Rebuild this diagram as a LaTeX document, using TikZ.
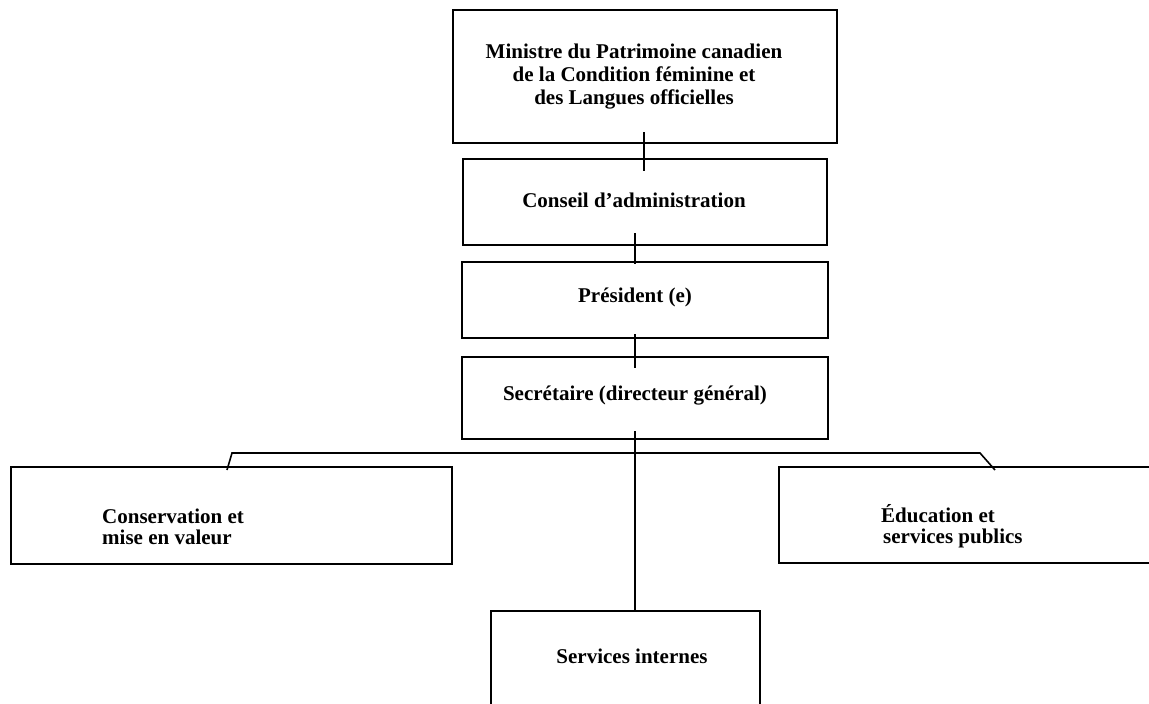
\documentclass[tikz,border=0pt]{standalone}
\usepackage{fontspec}
\setmainfont{Liberation Serif}
\begin{document}
\begin{tikzpicture}[x=1pt,y=-1pt,
  box/.style={draw, line width=2.8pt, rectangle, inner sep=0pt, outer sep=0pt},
  lbl/.style={font=\fontsize{21}{23}\selectfont\bfseries, inner sep=0pt, align=center},
  lbll/.style={font=\fontsize{21}{21}\selectfont\bfseries, inner sep=0pt, align=left, anchor=west},
  conn/.style={line width=2pt},
  branch/.style={line width=1.6pt, line join=miter}]
\useasboundingbox (0,0) rectangle (1149,704);
\clip (0,0) rectangle (1149,704);
% boxes
\node[box, minimum width=384pt, minimum height=133pt] (minister) at (645,76.5) {};
\node[box, minimum width=364pt, minimum height=86pt] (conseil) at (645,202) {};
\node[box, minimum width=366pt, minimum height=76pt] (pres) at (645,300) {};
\node[box, minimum width=366pt, minimum height=82pt] (sec) at (645,398) {};
\node[box, minimum width=441pt, minimum height=97pt] (cons) at (231.5,515.5) {};
\node[box, minimum width=381pt, minimum height=96pt] (educ) at (969.5,515) {};
\node[box, minimum width=269pt, minimum height=109pt] (serv) at (625.5,665.5) {};
% texts
\node[lbl] (tminister) at (634,77) {Ministre du Patrimoine canadien\\de la Condition féminine et\\des Langues officielles};
\node[lbl] (tconseil) at (634,200) {Conseil d’administration};
\node[lbl] (tpres) at (635,297) {Président (e)};
\node[lbl] (tsec) at (635,396) {Secrétaire (directeur général)};
\node[lbll] (tcons) at (102,527) {Conservation et\\mise en valeur};
\node[lbll] (teduc) at (881,526) {Éducation et\\\hspace{2pt}services publics};
\node[lbl] (tserv) at (632,656) {Services internes};
% connectors
\draw[conn] ([xshift=-1pt,yshift=11pt]minister.south) -- ([xshift=-1pt,yshift=-12pt]conseil.north);
\draw[conn] ([xshift=-10pt,yshift=12pt]conseil.south) -- ([xshift=-10pt,yshift=-2pt]pres.north);
\draw[conn] ([xshift=-10pt,yshift=4pt]pres.south) -- ([xshift=-10pt,yshift=-11pt]sec.north);
\coordinate (spine) at ([xshift=-10pt]sec.south);
\draw[conn] ([yshift=8pt]spine) -- (spine |- serv.north);
\coordinate (brl) at (232,453);
\coordinate (brr) at (980,453);
\draw[branch] ([xshift=-4.5pt,yshift=-3pt]cons.north) -- (brl) -- (brr) -- ([xshift=216pt,yshift=-3pt]educ.north west);
\end{tikzpicture}
\end{document}
